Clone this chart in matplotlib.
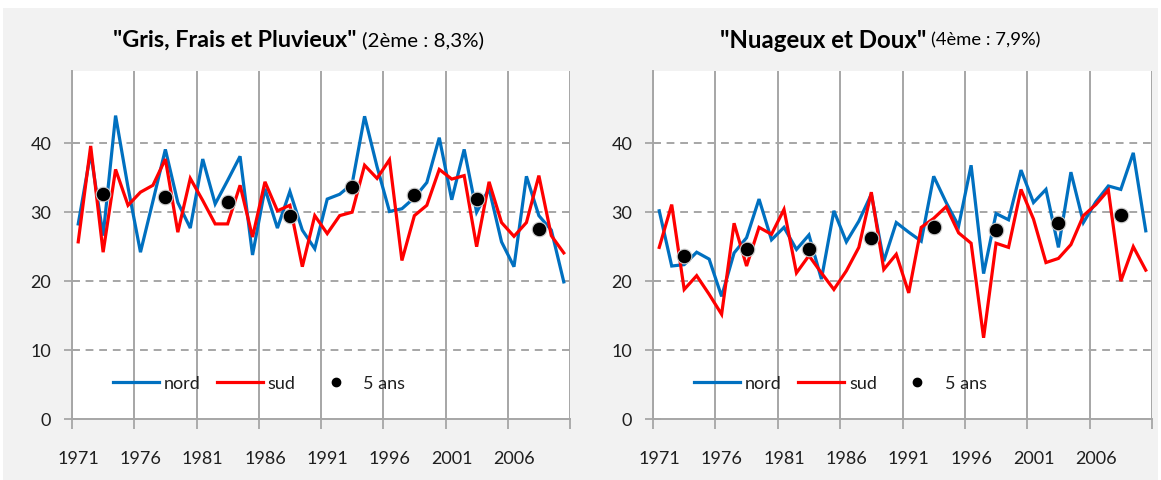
import matplotlib
matplotlib.use("Agg")
import matplotlib.pyplot as plt
from matplotlib.lines import Line2D
from matplotlib.patches import Rectangle
import numpy as np

# ---------------- data ----------------
years = list(range(1971, 2011))
five_year_pos = [1973, 1978, 1983, 1988, 1993, 1998, 2003, 2008]
tick_labels = ["1971", "1976", "1981", "1986", "1991", "1996", "2001", "2006"]

gfp_nord = [28.2, 38.5, 26.5, 43.9, 33.5, 24.1, 31.5, 39.0, 31.3, 27.6,
            37.6, 31.1, 34.5, 38.0, 23.7, 33.3, 27.6, 32.9, 27.3, 24.6,
            31.8, 32.5, 34.0, 43.8, 36.5, 30.0, 30.4, 32.0, 34.2, 40.7,
            31.7, 39.0, 29.9, 33.3, 25.6, 22.0, 35.1, 29.4, 27.3, 19.8]
gfp_sud = [25.6, 39.5, 24.1, 36.1, 30.9, 32.8, 33.8, 37.6, 27.0, 34.8,
           31.6, 28.2, 28.2, 33.8, 26.3, 34.3, 30.1, 30.9, 22.0, 29.4,
           26.8, 29.4, 29.9, 36.7, 34.8, 37.5, 22.9, 29.4, 30.9, 36.1,
           34.7, 35.2, 24.9, 34.3, 28.4, 26.4, 28.4, 35.2, 26.5, 24.0]
gfp_5ans = [32.5, 32.1, 31.4, 29.4, 33.5, 32.4, 31.8, 27.5]

nd_nord = [30.1, 22.1, 22.3, 24.1, 23.1, 17.7, 24.0, 26.2, 31.8, 25.9,
           27.7, 24.5, 26.6, 20.2, 30.1, 25.6, 28.6, 32.5, 22.8, 28.4,
           27.0, 25.7, 35.1, 31.3, 27.9, 36.7, 21.0, 29.7, 28.8, 36.0,
           31.3, 33.2, 24.8, 35.7, 28.4, 31.4, 33.7, 33.2, 38.5, 27.2]
nd_sud = [24.8, 31.0, 18.7, 20.7, 18.0, 15.1, 28.3, 22.1, 27.7, 26.7,
          30.3, 21.1, 23.6, 21.1, 18.7, 21.4, 24.8, 32.8, 21.6, 23.8,
          18.2, 27.7, 29.0, 30.7, 26.9, 25.4, 11.7, 25.4, 24.8, 33.2,
          28.9, 22.6, 23.2, 25.2, 29.4, 31.0, 33.1, 19.9, 24.9, 21.5]
nd_5ans = [23.6, 24.6, 24.6, 26.2, 27.8, 27.3, 28.4, 29.5]

titles = [('"Gris, Frais et Pluvieux"', "(2ème : 8,3%)"),
          ('"Nuageux et Doux"', "(4ème : 7,9%)")]
legend_labels = ["nord", "sud", "5 ans"]

# ---------------- style ----------------
W, H = 1161, 481
BLUE = "#0070C0"
RED = "#FF0000"
GRID = "#a6a6a6"
TXT = "#1f1f1f"
plt.rcParams["font.family"] = ["Lato", "DejaVu Sans"]

fig = plt.figure(figsize=(W / 100, H / 100), dpi=100, facecolor="white")
fig.patches.append(Rectangle((3 / W, 0), (W - 6) / W, 1 - 9 / H,
                             transform=fig.transFigure, facecolor="#f2f2f2",
                             edgecolor="none", zorder=-10))

panels = [
    dict(left=72, right=570, nord=gfp_nord, sud=gfp_sud, dots=gfp_5ans,
         title=titles[0], tsplit=358, tw=(245, 122)),
    dict(left=653, right=1152, nord=nd_nord, sud=nd_sud, dots=nd_5ans,
         title=titles[1], tsplit=927, tw=(208, 109)),
]
y_bottom, y_top = 419.5, 72

renderer = fig.canvas.get_renderer()


def fit_text(x_px, y_px, s, target_w, ha, **kw):
    t = fig.text(x_px / W, 1 - y_px / H, s, ha=ha, va="center",
                 fontsize=14, color="black", **kw)
    bb = t.get_window_extent(renderer)
    t.set_fontsize(14 * target_w / bb.width)
    return t


for p in panels:
    ax = fig.add_axes([p["left"] / W, 1 - y_bottom / H,
                       (p["right"] - p["left"]) / W, (y_bottom - y_top) / H])
    ax.set_facecolor("white")
    ax.set_xlim(1970.5, 2010.5)
    ax.set_ylim(0, (y_bottom - y_top) / 6.9)

    ax.plot(years, p["nord"], color=BLUE, lw=2.3, zorder=3,
            solid_joinstyle="miter")
    ax.plot(years, p["sud"], color=RED, lw=2.3, zorder=4,
            solid_joinstyle="miter")
    ax.plot(five_year_pos, p["dots"], "o", color="black", ms=10.5,
            mec="#c8c8c8", mew=0.8, zorder=5)

    # grid / ticks
    major = np.arange(1970.5, 2011, 5)
    ax.set_xticks(major)
    ax.set_xticklabels([])
    ax.set_xticks([int(t) for t in tick_labels], minor=True)
    ax.set_xticklabels(tick_labels, minor=True)
    ax.tick_params(axis="x", which="major", direction="out", length=7,
                   width=1.3, color=GRID)
    ax.tick_params(axis="x", which="minor", length=0, pad=23,
                   labelsize=13, labelcolor=TXT)
    ax.set_yticks([0, 10, 20, 30, 40])
    ax.tick_params(axis="y", direction="inout", length=12, width=1.3,
                   color=GRID, pad=9, labelsize=13, labelcolor=TXT)
    for x in major:
        ax.axvline(x, color=GRID, lw=1.4, zorder=1)
    for y in [10, 20, 30, 40]:
        ax.axhline(y, color=GRID, lw=1.4, ls=(0, (4, 3)), zorder=1)
    for side in ["top", "right"]:
        ax.spines[side].set_visible(False)
    for side in ["left", "bottom"]:
        ax.spines[side].set_color(GRID)
        ax.spines[side].set_linewidth(1.4)

    handles = [Line2D([], [], color=BLUE, lw=2.3),
               Line2D([], [], color=RED, lw=2.3),
               Line2D([], [], ls="none", marker="o", color="black", ms=6)]
    ylim_top = ax.get_ylim()[1]
    ax.legend(handles, legend_labels, loc="center left",
              bbox_to_anchor=(0.082, 5.1 / ylim_top), frameon=False, ncol=3,
              fontsize=13, handlelength=2.55, handletextpad=0.25,
              columnspacing=0.95, borderpad=0, borderaxespad=0,
              labelcolor=TXT)

    bold, normal = p["title"]
    fit_text(p["tsplit"] - 1, 40, bold, p["tw"][0], "right", fontweight="bold")
    fit_text(p["tsplit"] + 4, 40, normal, p["tw"][1], "left")

fig.savefig("out.png", dpi=100, facecolor=fig.get_facecolor())
